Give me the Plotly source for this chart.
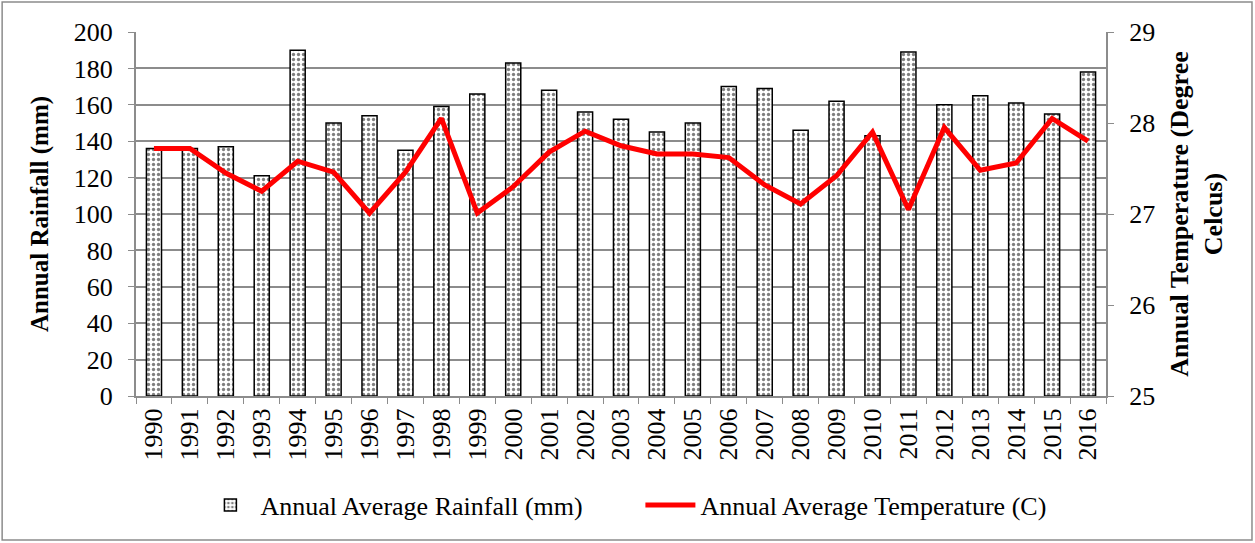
import plotly.graph_objects as go

years = [str(y) for y in range(1990, 2017)]
rainfall = [136, 136, 137, 121, 190, 150, 154, 135, 159, 166, 183, 168, 156, 152,
            145, 150, 170, 169, 146, 162, 143, 189, 160, 165, 161, 155, 178]
temperature = [27.72, 27.72, 27.45, 27.25, 27.58, 27.46, 27.01, 27.46, 28.05, 27.01,
               27.30, 27.68, 27.91, 27.75, 27.66, 27.66, 27.62, 27.32, 27.11, 27.42,
               27.90, 27.05, 27.95, 27.48, 27.56, 28.05, 27.80]

serif = "Liberation Serif"
tickfont = dict(family=serif, size=26, color="black")
gray = "#8c8c8c"

fig = go.Figure()
fig.add_trace(go.Bar(
    x=years, y=rainfall, name="Annual Average Rainfall (mm)",
    marker=dict(color="white", line=dict(color="black", width=1.5),
                pattern=dict(shape=".", fgcolor="black", bgcolor="white",
                             size=5, solidity=0.35)),
))
fig.add_trace(go.Scatter(
    x=years, y=temperature, name="Annual Average Temperature (C)",
    mode="lines", line=dict(color="#ff0000", width=5), yaxis="y2",
))

fig.update_layout(
    width=1255, height=543,
    margin=dict(l=136, r=149, t=32, b=147, autoexpand=False),
    paper_bgcolor="white", plot_bgcolor="white",
    font=dict(family=serif, size=26, color="black"),
    bargap=0.58,
    showlegend=True,
    legend=dict(orientation="h", x=0.52, xanchor="center", y=-0.30, yanchor="middle",
                font=dict(family=serif, size=26), traceorder="normal",
                itemwidth=50, entrywidth=375, entrywidthmode="pixels"),
    xaxis=dict(type="category", tickangle=-90, showline=True, linecolor=gray,
               linewidth=2, ticks="outside", tickson="boundaries", ticklen=6,
               tickcolor=gray, showgrid=False, automargin=False,
               tickfont=tickfont),
    yaxis=dict(range=[0, 200], dtick=20, showline=True, linecolor=gray,
               linewidth=2, ticks="outside", ticklen=6, tickcolor=gray,
               gridcolor=gray, gridwidth=2, zeroline=False, automargin=False,
               tickfont=tickfont, ticklabelstandoff=10,
               title=dict(text="<b>Annual Rainfall (mm)</b>", standoff=18,
                          font=dict(family=serif, size=25))),
    yaxis2=dict(range=[25, 29], dtick=1, overlaying="y", side="right",
                showline=True, linecolor=gray, linewidth=2, ticks="outside",
                ticklen=6, tickcolor=gray, showgrid=False, zeroline=False,
                automargin=False, tickfont=tickfont, ticklabelstandoff=10,
                title=dict(text="<b>Annual Temperature (Degree<br>Celcus)</b>",
                           standoff=16, font=dict(family=serif, size=26))),
    shapes=[dict(type="rect", xref="paper", yref="paper",
                 x0=-0.138, x1=1.1505, y0=-0.3956, y1=1.0824,
                 line=dict(color=gray, width=1.5))],
)

fig.write_html("out.html", config={"displayModeBar": False},
               post_script="document.body.style.margin='0';document.body.style.padding='0';")
